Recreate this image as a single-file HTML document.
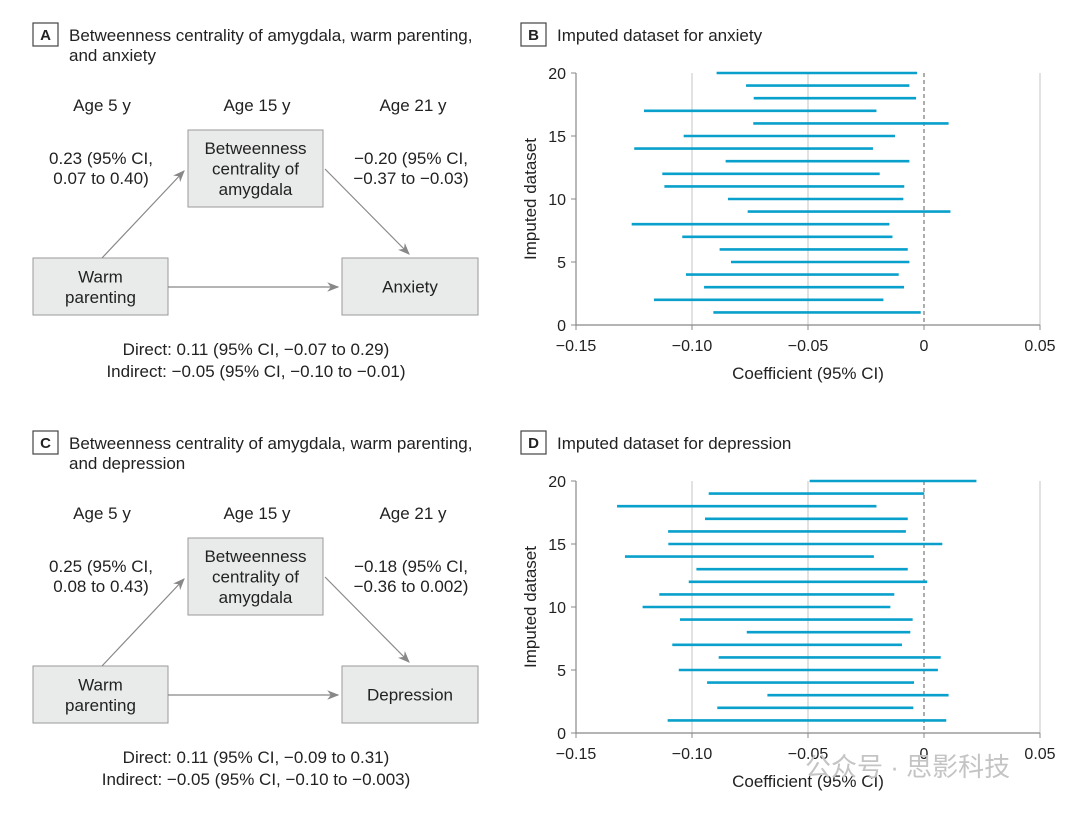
<!DOCTYPE html>
<html><head><meta charset="utf-8"><style>
body{margin:0;background:#fff;}
svg text{font-family:"Liberation Sans","Noto Sans CJK SC",sans-serif;fill:#222;}
</style></head><body>
<svg id="fig" width="1080" height="809" viewBox="0 0 1080 809">
<defs><marker id="ah" markerWidth="10" markerHeight="8" refX="9" refY="4" orient="auto"><path d="M0,0 L10,4 L0,8 L3,4 Z" fill="#888"/></marker></defs>
<g id="left"></g>
<g id="charts"></g>
<text x="805" y="776" font-size="26" fill="#bbb" style="fill:#c4c4c4">公众号 · 思影科技</text>
</svg>
<script>
const ns="http://www.w3.org/2000/svg";
const labelsY=[0,5,10,15,20];
const ticksX=[-0.15,-0.10,-0.05,0,0.05];
const tickTextX=["−0.15","−0.10","−0.05","0","0.05"];
const anxLow=[-0.0908,-0.1164,-0.0948,-0.1026,-0.0832,-0.0881,-0.1042,-0.1260,-0.0760,-0.0845,-0.1119,-0.1128,-0.0855,-0.1249,-0.1036,-0.0736,-0.1207,-0.0734,-0.0767,-0.0894];
const anxHigh=[-0.0014,-0.0175,-0.0086,-0.0109,-0.0063,-0.0070,-0.0136,-0.0149,0.0114,-0.0089,-0.0085,-0.0191,-0.0063,-0.0220,-0.0125,0.0106,-0.0205,-0.0034,-0.0063,-0.0030];
const depLow=[-0.1105,-0.0891,-0.0675,-0.0935,-0.1057,-0.0885,-0.1085,-0.0764,-0.1052,-0.1213,-0.1141,-0.1014,-0.0981,-0.1289,-0.1102,-0.1103,-0.0944,-0.1323,-0.0928,-0.0493];
const depHigh=[0.0096,-0.0046,0.0106,-0.0043,0.0060,0.0072,-0.0095,-0.0059,-0.0049,-0.0145,-0.0128,0.0014,-0.0070,-0.0216,0.0079,-0.0078,-0.0070,-0.0205,0.0001,0.0226];

function el(tag,attrs,parent,txt){const e=document.createElementNS(ns,tag);for(const k in attrs)e.setAttribute(k,attrs[k]);if(txt!==undefined)e.textContent=txt;parent.appendChild(e);return e;}

function panelLabel(g,x,y,letter,title){
  const b=el('rect',{x:x,y:y,width:25,height:23,fill:'#fff',stroke:'#444','stroke-width':1.2},g);
  
  
  const t=el('text',{x:x+12.5,y:y+17,'font-size':15,'font-weight':'bold','text-anchor':'middle'},g,letter);
  
  
  title.forEach((s,i)=>{const tt=el('text',{x:x+36,y:y+18+i*20,'font-size':17},g,s);
    
    });
}

function diagram(oy,letter,outcome,c1,c2,d1,d2){
  const g=el('g',{},document.getElementById('left'));
  
  
  panelLabel(g,33,23+oy,letter,['Betweenness centrality of amygdala, warm parenting,','and '+outcome.toLowerCase()]);
  [['Age 5 y',102],['Age 15 y',257],['Age 21 y',413]].forEach(a=>{const t=el('text',{x:a[1],y:111+oy,'font-size':17,'text-anchor':'middle'},g,a[0]);
    
    });
  const boxes=[[188,130,135,77,['Betweenness','centrality of','amygdala'],'mediator-box'],[33,258,135,57,['Warm','parenting'],'predictor-box'],[342,258,136,57,[outcome],'outcome-box']];
  boxes.forEach(b=>{const r=el('rect',{x:b[0],y:b[1]+oy,width:b[2],height:b[3],fill:'#e9ebea',stroke:'#9a9a9a','stroke-width':1},g);
    
    
    const n=b[4].length,cy=b[1]+oy+b[3]/2;
    b[4].forEach((s,i)=>{const t=el('text',{x:b[0]+b[2]/2,y:cy+6+(i-(n-1)/2)*20.5,'font-size':17,'text-anchor':'middle'},g,s);
      
      });});
  [[102,258,184,171],[325,169,409,254],[168,287,338,287]].forEach(a=>{const l=el('line',{x1:a[0],y1:a[1]+oy,x2:a[2],y2:a[3]+oy,stroke:'#888','stroke-width':1.2,'marker-end':'url(#ah)'},g);
    
    });
  [[c1,101],[c2,411]].forEach(c=>c[0].forEach((s,i)=>{const t=el('text',{x:c[1],y:164+i*20+oy,'font-size':17,'text-anchor':'middle'},g,s);
    
    }));
  [d1,d2].forEach((s,i)=>{const t=el('text',{x:256,y:355+i*22+oy,'font-size':17,'text-anchor':'middle'},g,s);
    
    });
}
diagram(0,'A','Anxiety',['0.23 (95% CI,','0.07 to 0.40)'],['−0.20 (95% CI,','−0.37 to −0.03)'],'Direct: 0.11 (95% CI, −0.07 to 0.29)','Indirect: −0.05 (95% CI, −0.10 to −0.01)');
diagram(408,'C','Depression',['0.25 (95% CI,','0.08 to 0.43)'],['−0.18 (95% CI,','−0.36 to 0.002)'],'Direct: 0.11 (95% CI, −0.09 to 0.31)','Indirect: −0.05 (95% CI, −0.10 to −0.003)');

function chart(oy,letter,title,lows,highs){
  const g=el('g',{},document.getElementById('charts'));
  
  
  panelLabel(g,521,23+oy,letter,[title]);
  const x0=576,x1=1040,y0=325+oy,y1=73+oy;
  const sx=v=>x0+(v+0.15)/0.2*(x1-x0);
  const sy=v=>y0-(v/20)*(y0-y1);
  ticksX.forEach((v,i)=>{
    if(i>0){const gl=el('line',{x1:sx(v),y1:y1,x2:sx(v),y2:y0,stroke:v===0?'#777':'#d8d8d8','stroke-width':v===0?1.2:1.5,'stroke-dasharray':v===0?'4,3':''},g);
      
      }
    const tk=el('line',{x1:sx(v),y1:y0,x2:sx(v),y2:y0+5,stroke:'#888'},g);
    
    
    const t=el('text',{x:sx(v),y:y0+26,'font-size':16,'text-anchor':'middle'},g,tickTextX[i]);
    
    
  });
  labelsY.forEach(v=>{
    const tk=el('line',{x1:x0-5,y1:sy(v),x2:x0,y2:sy(v),stroke:'#888'},g);
    
    
    const t=el('text',{x:x0-10,y:sy(v)+6,'font-size':16,'text-anchor':'end'},g,String(v));
    
    
  });
  const ax=el('path',{d:`M${x0},${y1} V${y0} H${x1}`,fill:'none',stroke:'#888','stroke-width':1.2},g);
  
  
  lows.forEach((lo,i)=>{
    const l=el('line',{x1:sx(lo),y1:sy(i+1),x2:sx(highs[i]),y2:sy(i+1),stroke:'#0aa0cc','stroke-width':2.6},g);
    
    
  });
  const xt=el('text',{x:808,y:y0+54,'font-size':17,'text-anchor':'middle'},g,'Coefficient (95% CI)');
  
  
  const yt=el('text',{x:0,y:0,'font-size':17,'text-anchor':'middle',transform:`translate(536,${(y0+y1)/2}) rotate(-90)`},g,'Imputed dataset');
  
  
}
chart(0,'B','Imputed dataset for anxiety',anxLow,anxHigh);
chart(408,'D','Imputed dataset for depression',depLow,depHigh);
</script>
</body></html>
